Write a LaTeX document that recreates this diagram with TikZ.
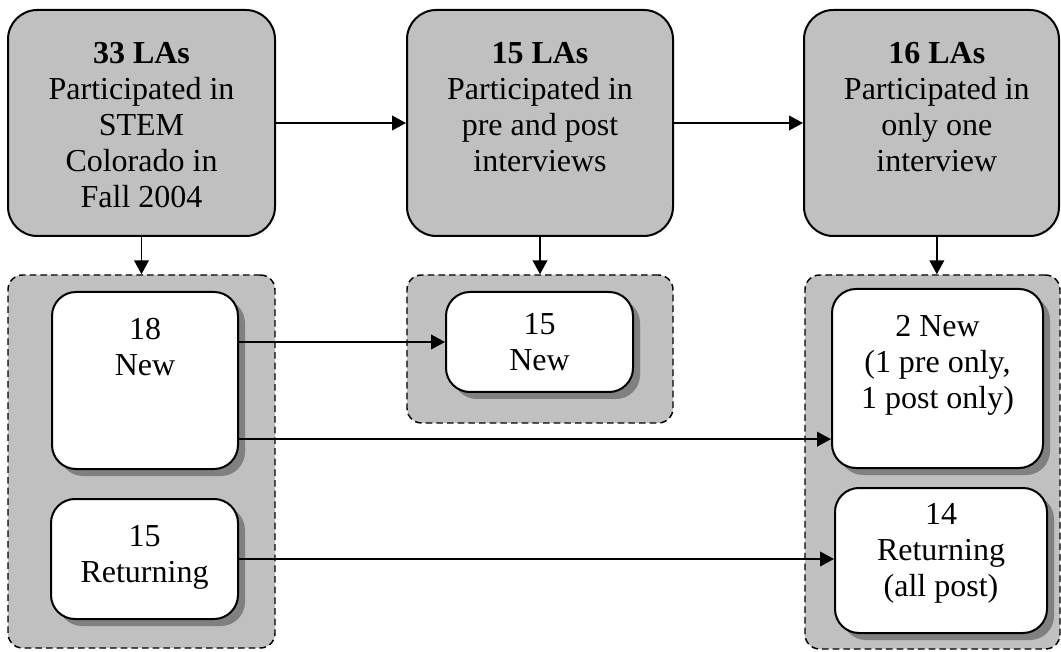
\documentclass[tikz,border=0pt]{standalone}
\usepackage{fontspec}
\setmainfont{Liberation Serif}
\usetikzlibrary{arrows.meta,positioning,shadows}
\definecolor{boxgray}{RGB}{192,192,192}
\definecolor{shadowgray}{RGB}{128,128,128}

\begin{document}
\begin{tikzpicture}[x=0.75pt, y=-0.75pt,
    stage/.style={rectangle, draw, line width=1.5pt, fill=boxgray,
        rounded corners=22pt, inner sep=0pt},
    group/.style={rectangle, draw, line width=1.1pt, fill=boxgray,
        dash pattern=on 5pt off 3pt, rounded corners=11pt, inner sep=0pt},
    cohort/.style={rectangle, draw, line width=1.5pt, fill=white,
        rounded corners=18pt, inner sep=0pt,
        drop shadow={shadow xshift=5.25pt, shadow yshift=-5.25pt,
            fill=shadowgray, opacity=1}},
    txt/.style={align=center, inner sep=0pt,
        font=\fontsize{24}{27}\selectfont},
    arr/.style={-{Triangle[length=10.5pt,width=11pt]}, line width=1.4pt}
]
    \useasboundingbox (0,0) rectangle (1061,652);

    % ---- Top row: who took part ----
    \node[stage, minimum width=200.25pt, minimum height=169.5pt] (la33) at (141.5,123) {};
    \node[stage, minimum width=199.5pt, minimum height=169.5pt] (la15) at (540,123) {};
    \node[stage, minimum width=191.25pt, minimum height=169.5pt] (la16) at (931.5,123) {};

    \node[txt, below=25pt of la33.north] (la33t)
        {\textbf{33 LAs}\\Participated in\\STEM\\Colorado in\\Fall 2004};
    \node[txt, below=25pt of la15.north] (la15t)
        {\textbf{15 LAs}\\Participated in\\pre and post\\interviews};
    \node[txt, below=25pt of la16.north, xshift=4pt] (la16t)
        {\textbf{16 LAs}\\Participated in\\only one\\interview};

    % ---- Bottom row: dashed groups ----
    \node[group, minimum width=200.25pt, minimum height=279.75pt] (grpA) at (141.5,461.5) {};
    \node[group, minimum width=199.5pt, minimum height=111pt] (grpB) at (540,349) {};
    \node[group, minimum width=191.25pt, minimum height=280.5pt] (grpC) at (932.5,462) {};

    % new / returning LAs in each group
    \node[cohort, minimum width=139.5pt, minimum height=132.75pt] (new18) at (145,380.5) {};
    \node[cohort, minimum width=140.25pt, minimum height=90pt] (ret15) at (144.5,559) {};
    \node[cohort, minimum width=140.25pt, minimum height=75pt] (new15) at (539.5,342) {};
    \node[cohort, minimum width=158.25pt, minimum height=134.25pt] (new2) at (937.5,378.5) {};
    \node[cohort, minimum width=159pt, minimum height=108.75pt] (ret14) at (941,560.5) {};

    \node[txt, below=20.5pt of new18.north] (new18t) {18\\New};
    \node[txt, below=20.5pt of ret15.north] (ret15t) {15\\Returning};
    \node[txt, below=16.5pt of new15.north] (new15t) {15\\New};
    \node[txt, below=20.5pt of new2.north] (new2t) {2 New\\(1 pre only,\\1 post only)};
    \node[txt, below=12pt of ret14.north] (ret14t) {14\\Returning\\(all post)};

    % ---- Arrows ----
    \draw[arr] (la33) -- (la15);
    \draw[arr] (la15) -- (la16);
    \draw[arr] (la33) -- (grpA);
    \draw[arr] (la15) -- (grpB);
    \draw[arr] ([xshift=4pt]la16.south) -- ([xshift=4pt]la16.south |- grpC.north);

    \draw[arr] (new18.east |- new15.west) -- (new15.west);
    \draw[arr] ([yshift=-44pt]new18.east) -- ([yshift=-44pt]new18.east -| new2.west);
    \draw[arr] (ret15.east) -- (ret15.east -| ret14.west);
\end{tikzpicture}
\end{document}
